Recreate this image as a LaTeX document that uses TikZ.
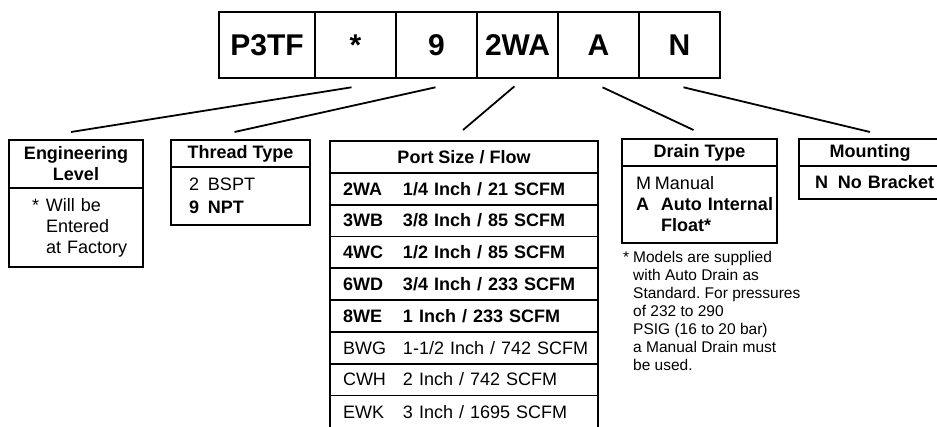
\documentclass[tikz,border=0pt]{standalone}
\usepackage{fontspec}
\setmainfont{Liberation Sans}
\usetikzlibrary{positioning}

\newcommand{\codebox}[2][14pt]{\makebox[#1][l]{#2}}
\newcommand{\portline}[2]{\mbox{\codebox[60pt]{#1}#2}}

\tikzset{
    base/.style={
        font=\fontsize{18}{21}\selectfont,
        outer sep=0pt,
        line width=1.8pt
    },
    cell/.style={
        base,
        draw,
        font=\fontsize{30}{36}\selectfont\bfseries,
        minimum width=81pt,
        minimum height=66pt,
        inner sep=0pt
    },
    head/.style={
        base,
        draw,
        font=\fontsize{18}{21}\selectfont\bfseries,
        align=center,
        inner sep=0pt,
        minimum height=27pt
    },
    body/.style={
        base,
        draw,
        align=left,
        inner ysep=0pt
    },
    portrow/.style={
        base,
        draw,
        align=left,
        text width=242pt,
        inner xsep=13pt,
        inner ysep=0pt,
        minimum height=31.8pt
    },
    leader/.style={
        line width=1.8pt
    },
    note/.style={
        font=\fontsize{15.5}{18}\selectfont\frenchspacing,
        align=left,
        inner sep=0pt
    }
}

\begin{document}
\begin{tikzpicture}[x=1pt, y=-1pt]
  \path[use as bounding box, clip] (0,0) rectangle (937,426);

  % Model code
  \node[cell, minimum width=96pt] (model) at (267,45.3) {P3TF};
  \node[cell, right=0pt of model] (star) {*};
  \node[cell, right=0pt of star] (thread) {9};
  \node[cell, right=0pt of thread] (port) {2WA};
  \node[cell, right=0pt of port] (drain) {A};
  \node[cell, right=0pt of drain] (mount) {N};

  % Engineering level
  \node[head, minimum width=134pt, minimum height=48pt] (engHead) at (76,164) {Engineering\\Level};
  \node[body, minimum width=134pt, text width=88pt, inner xsep=23pt, minimum height=79pt, below=0pt of engHead] (engBody)
    {\mbox{\codebox{*}Will be}\\\mbox{\codebox{}Entered}\\\mbox{\codebox{}at Factory}};

  % Thread type
  \node[head, minimum width=139pt] (thrHead) at (240.5,153.5) {Thread Type};
  \node[body, font=\fontsize{18}{23}\selectfont, text width=103pt, inner xsep=18pt, minimum height=58pt, below=0pt of thrHead] (thrBody)
    {\mbox{\codebox[19pt]{2}BSPT}\\\textbf{\mbox{\codebox[19pt]{9}NPT}}};

  % Port size / flow
  \node[head, minimum width=268pt, minimum height=31.8pt] (portHead) at (464,156.9) {Port Size / Flow};
  \node[portrow, below=0pt of portHead] (r2WA) {\textbf{\portline{2WA}{1/4 Inch / 21 SCFM}}};
  \node[portrow, below=0pt of r2WA] (r3WB) {\textbf{\portline{3WB}{3/8 Inch / 85 SCFM}}};
  \node[portrow, below=0pt of r3WB] (r4WC) {\textbf{\portline{4WC}{1/2 Inch / 85 SCFM}}};
  \node[portrow, below=0pt of r4WC] (r6WD) {\textbf{\portline{6WD}{3/4 Inch / 233 SCFM}}};
  \node[portrow, below=0pt of r6WD] (r8WE) {\textbf{\portline{8WE}{1 Inch / 233 SCFM}}};
  \node[portrow, below=0pt of r8WE] (rBWG) {\portline{BWG}{1-1/2 Inch / 742 SCFM}};
  \node[portrow, below=0pt of rBWG] (rCWH) {\portline{CWH}{2 Inch / 742 SCFM}};
  \node[portrow, minimum height=36pt, below=0pt of rCWH] (rEWK) {\raisebox{2.1pt}{\portline{EWK}{3 Inch / 1695 SCFM}}};

  % Drain type
  \node[head, minimum width=155pt] (drainHead) at (699.5,152.5) {Drain Type};
  \node[body, text width=127pt, inner xsep=14pt, minimum height=77pt, below=0pt of drainHead] (drainBody)
    {\mbox{\codebox[19pt]{M}Manual}\\\textbf{\mbox{\codebox[25pt]{A}Auto Internal}}\\\textbf{\mbox{\codebox[25pt]{}Float*}}};
  \node[note, anchor=north west] (footnote) at ([shift={(1,7.7)}]drainBody.south west)
    {\codebox[10pt]{*}Models are supplied\\
     \codebox[10pt]{}with Auto Drain as\\
     \codebox[10pt]{}Standard. For pressures\\
     \codebox[10pt]{}of 232 to 290\\
     \codebox[10pt]{}PSIG (16 to 20 bar)\\
     \codebox[10pt]{}a Manual Drain must\\
     \codebox[10pt]{}be used.};

  % Mounting
  \node[head, minimum width=142pt] (mountHead) at (870,152.5) {Mounting};
  \node[body, text width=110pt, inner xsep=16pt, minimum height=33pt, below=0pt of mountHead] (mountBody)
    {\textbf{\mbox{\codebox[23pt]{N}No Bracket}}};

  % Leaders
  \draw[leader] ([xshift=-4pt, yshift=-9pt]star.south) -- ([xshift=-5pt, yshift=8pt]engHead.north);
  \draw[leader] ([xshift=-1pt, yshift=-9pt]thread.south) -- ([xshift=-6pt, yshift=8pt]thrHead.north);
  \draw[leader] ([xshift=-3pt, yshift=-8pt]port.south) -- ([xshift=-1pt, yshift=11pt]portHead.north);
  \draw[leader] ([xshift=4pt, yshift=-9pt]drain.south) -- ([xshift=-6pt, yshift=9pt]drainHead.north);
  \draw[leader] ([xshift=4pt, yshift=-9pt]mount.south) -- ([yshift=7pt]mountHead.north);
\end{tikzpicture}
\end{document}
